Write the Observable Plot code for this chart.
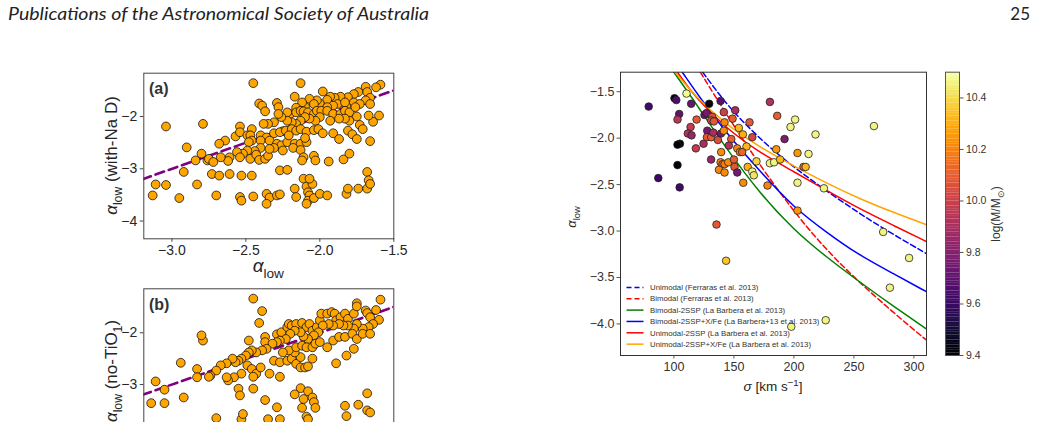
<!DOCTYPE html>
<html><head><meta charset="utf-8">
<script src="https://cdn.jsdelivr.net/npm/d3@7"></script>
<script src="https://cdn.jsdelivr.net/npm/@observablehq/plot@0.6"></script>
<style>
html,body{margin:0;padding:0;background:#fff;}
#page{position:relative;width:1038px;height:422px;overflow:hidden;background:#fff;font-family:"Liberation Sans",Arial,sans-serif;}
#page svg{position:absolute;left:0;top:0;}
#page svg.fig text, #page svg.fig tspan{font-family:"Liberation Sans",Arial,sans-serif;}
</style></head>
<body><div id="page"></div>
<script>
// ---------------- data ----------------
// panel (a): alpha_low vs alpha_low (with-Na D)
const panelA = [[-2.45,-1.36],[-2.13,-1.36],[-1.98,-1.52],[-1.59,-1.39],[-1.62,-1.44],[-1.69,-1.43],[-1.68,-1.53],[-1.74,-1.53],[-1.77,-1.57],[-1.81,-1.63],
[-1.86,-1.62],[-1.90,-1.64],[-1.93,-1.62],[-1.95,-1.68],[-2.00,-1.75],[-2.02,-1.69],[-2.07,-1.66],[-2.17,-1.62],[-1.66,-1.64],[-1.69,-1.69],
[-1.77,-1.73],[-1.82,-1.81],[-1.88,-1.76],[-1.91,-1.79],[-1.95,-1.82],[-1.83,-1.73],[-2.04,-1.76],[-2.10,-1.81],[-2.12,-1.73],[-2.41,-1.75],
[-2.39,-1.79],[-2.37,-1.90],[-2.29,-1.74],[-2.28,-1.82],[-2.16,-1.83],[-1.73,-1.76],[-1.66,-1.76],
[-2.20,-1.95],[-2.22,-1.92],[-2.16,-1.92],[-2.13,-1.89],[-2.11,-1.90],[-2.08,-1.92],[-2.04,-1.95],[-2.02,-1.89],[-1.99,-1.89],[-1.95,-1.89],
[-1.91,-1.95],[-1.86,-1.95],[-1.83,-1.89],[-1.80,-1.92],[-1.76,-1.82],[-1.60,-1.98],[-1.64,-2.10],[-1.67,-1.98],[-1.75,-2.00],[-1.80,-2.08],
[-1.83,-2.04],[-1.87,-2.04],[-1.93,-2.08],[-2.00,-2.01],[-2.03,-2.08],[-2.07,-2.04],[-2.10,-2.01],[-2.13,-2.08],[-2.16,-2.14],[-2.19,-2.11],
[-2.22,-2.08],[-2.26,-2.01],[-2.28,-1.95],[-2.31,-2.11],[-2.35,-2.14],[-2.38,-2.14],[-3.04,-2.19],[-2.79,-2.14],[-2.54,-2.19],[-2.46,-2.24],[-2.25,-2.28],
[-2.57,-2.38],[-2.64,-2.46],[-2.68,-2.52],[-2.54,-2.30],[-2.49,-2.36],[-2.47,-2.36],[-2.46,-2.46],[-2.48,-2.49],[-2.40,-2.36],[-2.36,-2.40],
[-2.31,-2.32],[-2.27,-2.30],[-2.23,-2.27],[-2.19,-2.24],[-2.16,-2.27],[-2.13,-2.24],[-2.09,-2.29],[-2.04,-2.26],[-2.01,-2.24],[-1.98,-2.32],
[-1.91,-2.32],[-1.87,-2.43],[-1.81,-2.27],[-1.78,-2.34],[-1.75,-2.43],[-1.73,-2.16],[-1.71,-2.24],[-1.66,-2.47],[-2.40,-2.46],[-2.34,-2.46],
[-2.29,-2.52],[-2.26,-2.55],[-2.22,-2.49],[-2.17,-2.52],[-2.13,-2.52],[-2.09,-2.49],[-2.10,-2.41],[-2.21,-2.36],[-2.31,-2.60],[-2.25,-2.65],
[-2.18,-2.60],[-2.13,-2.64],[-2.11,-2.78],[-2.12,-2.84],[-2.40,-2.60],[-2.44,-2.66],[-2.49,-2.65],[-2.52,-2.71],[-2.56,-2.68],[-2.61,-2.78],
[-2.62,-2.85],[-2.67,-2.78],[-2.76,-2.84],[-2.80,-2.71],[-2.90,-2.59],[-2.84,-2.84],[-2.75,-2.81],[-2.72,-2.87],[-2.54,-2.78],[-2.47,-2.81],
[-2.43,-2.73],[-2.41,-2.83],[-2.37,-2.81],[-2.35,-2.75],[-2.34,-2.62],[-2.04,-2.75],[-2.03,-2.84],[-1.94,-2.86],[-1.84,-2.82],[-1.80,-2.71],
[-2.73,-3.10],[-2.68,-3.13],[-2.61,-3.10],[-2.53,-3.13],[-2.46,-3.13],[-2.27,-3.03],[-2.22,-3.02],[-2.92,-3.06],
[-3.13,-3.51],[-3.11,-3.30],[-3.04,-3.31],[-2.95,-3.56],[-2.83,-3.30],[-2.70,-3.51],[-2.54,-3.54],[-2.53,-3.61],[-2.45,-3.53],[-2.36,-3.48],
[-2.34,-3.55],[-2.29,-3.51],[-2.27,-3.49],[-2.36,-3.67],[-2.17,-3.38],[-2.16,-3.54],[-2.11,-3.19],[-2.09,-3.34],[-2.08,-3.45],[-2.07,-3.51],
[-2.08,-3.61],[-2.05,-3.29],[-2.07,-3.19],[-2.04,-3.56],[-2.00,-3.48],[-1.95,-3.51],[-1.82,-3.48],[-1.81,-3.38],[-1.74,-3.38],[-1.68,-3.38],
[-1.68,-3.06],[-1.67,-3.22],[-1.66,-3.29],[-2.09,-3.67]];

// panel (b): alpha_low vs alpha_low (no-TiO1)
const panelB = [[-2.45,-1.34],[-2.39,-1.58],[-2.41,-1.81],[-2.48,-2.15],[-2.37,-2.08],[-2.37,-2.18],[-2.29,-2.03],[-2.26,-1.99],[-2.22,-1.89],[-2.21,-1.83],
[-2.19,-1.86],[-2.16,-1.83],[-2.12,-1.81],[-2.09,-1.89],[-2.07,-1.83],[-2.05,-1.96],[-2.02,-1.89],[-2.00,-1.76],[-1.99,-1.63],[-1.95,-1.63],
[-1.92,-1.60],[-1.90,-1.63],[-1.89,-1.76],[-1.86,-1.70],[-1.83,-1.63],[-1.81,-1.73],[-1.77,-1.63],[-1.75,-1.43],[-1.75,-1.49],[-1.69,-1.57],
[-1.68,-1.62],[-1.66,-1.70],[-1.62,-1.56],[-1.59,-1.36],[-1.60,-1.75],[-1.64,-1.83],[-1.67,-1.89],[-1.71,-1.92],[-1.75,-1.83],[-1.77,-1.92],
[-1.81,-1.86],[-1.84,-1.86],[-1.87,-1.83],[-1.91,-1.86],[-1.94,-1.83],[-1.98,-1.86],[-2.01,-1.99],[-2.04,-2.05],[-2.08,-2.12],[-2.11,-2.07],
[-2.13,-1.99],[-2.17,-1.96],[-2.20,-2.02],[-2.23,-2.12],[-2.27,-2.15],[-2.29,-2.18],[-2.32,-2.21],[-2.36,-2.31],[-2.39,-2.34],[-2.43,-2.38],
[-2.46,-2.34],[-2.48,-2.38],[-2.50,-2.44],[-2.53,-2.50],[-2.55,-2.54],[-2.57,-2.57],[-2.59,-2.50],[-2.63,-2.59],[-2.67,-2.63],[-2.70,-2.73],
[-2.74,-2.83],[-2.75,-2.85],[-2.79,-2.15],[-2.80,-2.05],[-2.83,-2.70],[-2.83,-2.86],[-2.94,-2.58],[-2.92,-3.25],[-3.05,-3.10],[-3.05,-3.36],
[-3.11,-2.94],[-3.14,-3.36],[-2.49,-2.63],[-2.46,-2.70],[-2.43,-2.79],[-2.40,-2.67],[-2.34,-2.79],[-2.27,-2.85],[-2.45,-2.85],[-2.53,-2.79],
[-2.58,-2.86],[-2.62,-2.92],[-2.63,-2.86],[-2.55,-3.08],[-2.54,-3.21],[-2.45,-3.08],[-2.37,-3.30],[-2.29,-3.44],[-2.27,-3.67],[-2.35,-3.67],
[-2.53,-3.67],[-2.70,-3.65],[-2.52,-3.57],[-2.31,-2.54],[-2.27,-2.57],[-2.22,-2.54],[-2.19,-2.50],[-2.16,-2.60],[-2.13,-2.67],[-2.10,-2.67],
[-2.08,-2.65],[-2.05,-2.50],[-2.13,-2.47],[-2.17,-2.38],[-2.21,-2.34],[-2.25,-2.38],[-2.16,-2.28],[-2.12,-2.25],[-2.09,-2.28],[-2.05,-2.28],
[-2.03,-2.21],[-2.00,-2.18],[-1.95,-2.28],[-1.91,-2.15],[-1.87,-2.08],[-1.83,-2.08],[-1.78,-2.02],[-1.75,-2.12],[-1.71,-2.02],[-1.66,-2.02],
[-1.77,-2.31],[-1.82,-2.44],[-1.89,-2.59],[-2.13,-3.07],[-2.17,-3.19],[-2.11,-3.28],[-2.08,-3.13],[-2.05,-3.25],[-2.04,-3.34],[-2.03,-3.45],
[-2.12,-3.45],[-2.09,-3.62],[-2.08,-3.67],[-1.83,-3.41],[-1.74,-3.39],[-1.82,-3.61],[-1.68,-3.17],[-1.68,-3.50],[-1.66,-3.54]];

// one-to-one reference line
const oneToOne = [-3.2, -1.5];

// right panel: galaxies  [sigma (km/s), alpha_low, log(M/Msun)]
const galaxies = [[79,-1.66,9.62],[100.5,-1.57,9.42],[102,-1.59,9.65],[110.5,-1.52,10.48],[114.4,-1.63,9.72],[129.4,-1.63,9.42],[138.9,-1.60,9.68],
[104.4,-1.74,9.70],[103,-1.80,9.95],[118.9,-1.80,10.08],[113.9,-1.88,9.98],[125.5,-1.75,9.72],[127.2,-1.73,9.75],[131.9,-1.77,10.05],
[131.1,-1.81,10.02],[133.3,-1.82,10.08],[141.6,-1.72,10.0],[142.2,-1.83,10.2],[148.9,-1.79,10.1],[151.1,-1.70,9.9],[111.6,-1.95,9.92],
[114.7,-1.97,9.85],[118.3,-2.11,9.98],[124.7,-2.06,9.9],[127.8,-1.92,9.75],[127.5,-1.99,10.08],[131.1,-1.99,10.1],[132.8,-1.94,9.9],
[136.7,-2.02,10.05],[139.2,-1.95,9.75],[141.6,-1.92,10.22],[147.8,-2.01,10.1],[145.8,-2.08,9.92],[154.1,-1.89,10.32],[157.5,-1.96,10.3],
[160.5,-2.09,10.32],[152.8,-2.11,10.2],[155,-2.15,10.2],[156.9,-2.15,10.12],[163,-1.83,10.08],[165.3,-1.99,10.02],[105,-2.06,9.40],
[103,-2.07,9.42],[103,-2.29,9.42],[87,-2.43,9.60],[104.8,-2.53,9.62],[131,-2.23,9.85],[139.4,-2.15,10.22],[138.9,-2.26,10.22],
[140.5,-2.28,10.12],[142.2,-2.28,10.18],[145.3,-2.26,10.22],[150,-2.23,10.1],[150.5,-2.31,10.08],[152.8,-2.37,9.75],[137.5,-2.34,10.2],
[142.2,-2.37,10.22],[161.5,-2.31,10.3],[165.3,-2.36,10.45],[166.6,-2.40,10.42],[168.8,-2.25,10.38],[157.8,-2.48,10.22],[178,-2.51,10.2],
[180,-2.27,10.46],[183.5,-2.26,10.46],[188.5,-2.23,10.32],[185.3,-2.12,10.25],[180,-1.61,9.92],[186.1,-1.76,10.1],[192.2,-2.01,9.78],
[197.2,-1.88,10.46],[201,-1.80,10.46],[218,-1.96,10.46],[203,-2.16,10.25],[212.2,-2.17,10.46],[208,-2.31,10.12],[209.8,-2.31,10.32],
[203,-2.48,10.46],[225,-2.54,10.46],[266.7,-1.87,10.46],[274.4,-3.01,10.46],[203,-2.78,10.25],[135.5,-2.93,10.08],[143.5,-3.32,10.35],
[296,-3.29,10.46],[280,-3.61,10.46],[197.8,-4.03,10.46],[226.5,-3.96,10.46]];

// model relations  [sigma, alpha_low]
const uniFerreras = [[124,-1.29],[144,-1.64],[164,-1.91],[186,-2.17],[205,-2.36],[225,-2.55],[250,-2.77],[274,-2.97],[310,-3.24]];
const biFerreras  = [[122,-1.29],[144,-1.75],[172,-2.30],[200,-2.79],[224,-3.16],[250,-3.50],[283,-3.88],[310,-4.17]];
const bi2SSP      = [[100,-1.29],[117,-1.60],[144,-2.12],[172,-2.60],[200,-2.99],[228,-3.29],[256,-3.56],[283,-3.81],[310,-4.05]];
const bi2SSPXFe   = [[107,-1.29],[122,-1.57],[144,-1.95],[172,-2.36],[200,-2.75],[228,-3.02],[253,-3.25],[283,-3.46],[310,-3.65]];
const uni2SSP     = [[103,-1.29],[117,-1.55],[144,-1.90],[172,-2.16],[200,-2.36],[228,-2.57],[256,-2.77],[283,-2.94],[310,-3.11]];
const uni2SSPXFe  = [[101,-1.29],[117,-1.54],[144,-1.86],[172,-2.10],[200,-2.30],[228,-2.49],[256,-2.66],[283,-2.80],[310,-2.93]];

const modelNames = ["Unimodal (Ferraras et al. 2013)","Bimodal (Ferraras et al. 2013)","Bimodal-2SSP (La Barbera et al. 2013)",
  "Bimodal-2SSP+X/Fe (La Barbera+13 et al. 2013)","Unimodal-2SSP (La Barbera et al. 2013)","Unimodal-2SSP+X/Fe (La Barbera et al. 2013)"];
const modelColors = ["#0000ff","#ff0000","#008000","#0000ff","#ff0000","#ffa500"];
const modelDashed = [true,true,false,false,false,false];
const modelData = [uniFerreras, biFerreras, bi2SSP, bi2SSPXFe, uni2SSP, uni2SSPXFe];

const massTicks = [9.4,9.6,9.8,10.0,10.2,10.4];
const massDomain = [9.4,10.5];

// ---------------- helpers ----------------
const FONT = "'Liberation Sans', Arial, sans-serif";
const page = document.getElementById("page");
function put(svg, fig=true){ svg.style.position="absolute"; svg.style.left="0px"; svg.style.top="0px"; svg.style.background="transparent"; svg.style.overflow="visible"; svg.style.maxWidth="none"; if(fig) svg.classList.add("fig"); page.appendChild(svg); return svg; }
function rich(svg, o, parts){
  const size=o.size;
  const t=d3.select(svg).append("text")
    .attr("transform",`translate(${o.x},${o.y}) rotate(${o.rotate||0})`)
    .attr("text-anchor",o.anchor||"middle").attr("font-size",size)
    .attr("fill",o.fill||"#262626");
  if(o.weight) t.attr("font-weight",o.weight);
  let shift=0;
  for(const [s,k] of parts){
    const ts=t.append("tspan").text(s);
    const target = k==="sub" ? size*0.3 : k==="sup" ? -size*0.4 : 0;
    if(target!==shift){ ts.attr("dy",target-shift); shift=target; }
    if(k==="sub"||k==="sup") ts.attr("font-size",size*0.72);
    if(k==="it") ts.attr("font-style","italic");
  }
  return t;
}
const baseStyle = {fontFamily:FONT, color:"#262626", background:"transparent", overflow:"visible"};

// ---------------- header ----------------
const hdr = d3.create("svg").attr("width",1038).attr("height",30).node();
d3.select(hdr).append("text").attr("x",8).attr("y",20).attr("font-family","Lato").attr("font-style","italic")
  .attr("font-size",17).attr("fill","#222").attr("textLength",421).attr("lengthAdjust","spacingAndGlyphs")
  .text("Publications of the Astronomical Society of Australia");
d3.select(hdr).append("text").attr("x",1030).attr("y",20).attr("text-anchor","end").attr("font-family","Lato")
  .attr("font-size",17).attr("fill","#222").text("25");
put(hdr, false);

// ---------------- panels (a) and (b) ----------------
function leftPanel(data, top, height, yDomain, showX){
  return Plot.plot({
    width:400, height:top+height+52,
    marginLeft:143.3, marginRight:6.7, marginTop:top, marginBottom:52,
    style:{...baseStyle, fontSize:"14px"},
    x:{domain:[-3.19,-1.5]},
    y:{domain:yDomain},
    marks:[
      Plot.line(oneToOne,{x:d=>d,y:d=>d,stroke:"#800080",strokeWidth:2.6,strokeDasharray:"9,5",clip:true}),
      Plot.dot(data,{x:d=>d[0],y:d=>d[1],r:4.4,fill:"#ffa500",stroke:"#111",strokeWidth:0.8}),
      Plot.frame({stroke:"#444",strokeWidth:1}),
      showX ? Plot.axisX({ticks:[-3,-2.5,-2,-1.5],tickFormat:d3.format(".1f"),tickSize:3.5,tickPadding:3,label:null,stroke:"#444"})
            : Plot.axisX({ticks:[],label:null}),
      Plot.axisY({ticks:[-4,-3,-2],tickFormat:d3.format("d"),tickSize:3.5,tickPadding:3,label:null,stroke:"#444"})
    ]
  });
}
const pa = put(leftPanel(panelA, 72.7, 165.6, [-4.34,-1.17], true));
rich(pa,{x:149,y:94,size:16,anchor:"start",weight:"bold",fill:"#333"},[["(a)",null]]);
rich(pa,{x:268.3,y:272,size:19},[["α","it"],["low","sub"]]);
rich(pa,{x:117,y:155.5,size:17,rotate:-90},[["α","it"],["low","sub"],[" (with-Na D)",null]]);

const pb = put(leftPanel(panelB, 288.3, 165.6, [-4.35,-1.15], false));
rich(pb,{x:149,y:310,size:16,anchor:"start",weight:"bold",fill:"#333"},[["(b)",null]]);
rich(pb,{x:117,y:371,size:17,rotate:-90},[["α","it"],["low","sub"],[" (no-TiO",null],["1","sub"],[")",null]]);

// ---------------- right panel ----------------
const lineMarks = modelData.map((d,i)=>Plot.line(d,{x:p=>p[0],y:p=>p[1],stroke:modelColors[i],strokeWidth:1.5,
  strokeDasharray:modelDashed[i]?"5.5,3":null,curve:"basis",clip:true}));
const pc = put(Plot.plot({
  width:1038, height:422, marginLeft:620, marginRight:112, marginTop:71.7, marginBottom:67,
  style:{...baseStyle, fontSize:"12.5px", color:"#333"},
  x:{domain:[55.5,310.5]},
  y:{domain:[-4.34,-1.29]},
  color:{type:"linear",scheme:"inferno",domain:massDomain},
  marks:[
    ...lineMarks,
    Plot.dot(galaxies,{x:d=>d[0],y:d=>d[1],fill:d=>d[2],r:3.8,stroke:"#222",strokeWidth:0.8}),
    Plot.frame({stroke:"#333",strokeWidth:1}),
    Plot.axisX({ticks:[100,150,200,250,300],tickSize:3.5,tickPadding:3,label:null,stroke:"#555"}),
    Plot.axisY({ticks:[-4,-3.5,-3,-2.5,-2,-1.5],tickFormat:d3.format(".1f"),tickSize:3.5,tickPadding:2.5,label:null,stroke:"#555"})
  ]
}));
rich(pc,{x:576,y:217,size:13,rotate:-90},[["α","it"],["low","sub"]]);
rich(pc,{x:773,y:391,size:13.5},[["σ","it"],[" [km s",null],["−1","sup"],["]",null]]);
// legend
{
  const g=d3.select(pc).append("g");
  modelNames.forEach((name,i)=>{
    const y=287.4+i*11.35;
    g.append("line").attr("x1",626.5).attr("x2",643.5).attr("y1",y).attr("y2",y)
      .attr("stroke",modelColors[i]).attr("stroke-width",1.5).attr("stroke-dasharray",modelDashed[i]?"5,3":null);
    g.append("text").attr("x",650).attr("y",y).attr("dy","0.35em").attr("text-anchor","start")
      .attr("font-size",7.8).attr("fill","#333").text(name);
  });
}

// ---------------- colorbar ----------------
const cbSteps = d3.range(0,110).map(i=>9.4+i*0.01);
const pd = put(Plot.plot({
  width:1038, height:422, marginLeft:945, marginRight:79, marginTop:71.7, marginBottom:67,
  style:{...baseStyle, fontSize:"10.5px", color:"#333"},
  x:{domain:[0,1],axis:null},
  y:{domain:massDomain},
  color:{type:"linear",scheme:"inferno",domain:massDomain},
  marks:[
    Plot.rect(cbSteps,{x1:0,x2:1,y1:d=>d,y2:d=>d+0.0102,fill:d=>d+0.005}),
    Plot.frame({stroke:"#555",strokeWidth:1}),
    Plot.axisY({anchor:"right",ticks:massTicks,tickFormat:d3.format(".1f"),tickSize:3.5,tickPadding:3,label:null,stroke:"#555"})
  ]
}));
rich(pd,{x:1000,y:214,size:12,rotate:-90,fill:"#333"},[["log(M/M",null],["⊙","sub"],[")",null]]);
</script>
</body></html>
